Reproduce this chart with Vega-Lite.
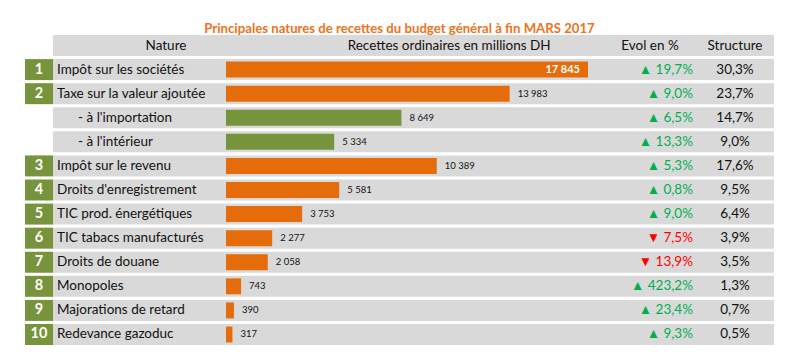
{
  "$schema": "https://vega.github.io/schema/vega-lite/v6.json",
  "background": "white",
  "padding": {"left": 25, "top": 21, "right": 0, "bottom": 0},
  "title": {"text": "Principales natures de recettes du budget général à fin MARS 2017", "color": "#EE7321", "font": "Lato", "fontSize": 13.2, "fontWeight": "bold", "anchor": "middle", "offset": -1},
  "datasets": {
    "rows": [
      {"id": "1", "rang": "1", "nature": "Impôt sur les sociétés", "niveau": 1, "groupe": "principal", "montant": 17845, "evol": 19.7, "evol_txt": "▲ 19,7%", "structure": 0.303},
      {"id": "2", "rang": "2", "nature": "Taxe sur la valeur ajoutée", "niveau": 1, "groupe": "principal", "montant": 13983, "evol": 9.0, "evol_txt": "▲ 9,0%", "structure": 0.237},
      {"id": "2a", "rang": null, "nature": "- à l'importation", "niveau": 2, "groupe": "détail", "montant": 8649, "evol": 6.5, "evol_txt": "▲ 6,5%", "structure": 0.147},
      {"id": "2b", "rang": null, "nature": "- à l'intérieur", "niveau": 2, "groupe": "détail", "montant": 5334, "evol": 13.3, "evol_txt": "▲ 13,3%", "structure": 0.090},
      {"id": "3", "rang": "3", "nature": "Impôt sur le revenu", "niveau": 1, "groupe": "principal", "montant": 10389, "evol": 5.3, "evol_txt": "▲ 5,3%", "structure": 0.176},
      {"id": "4", "rang": "4", "nature": "Droits d'enregistrement", "niveau": 1, "groupe": "principal", "montant": 5581, "evol": 0.8, "evol_txt": "▲ 0,8%", "structure": 0.095},
      {"id": "5", "rang": "5", "nature": "TIC prod. énergétiques", "niveau": 1, "groupe": "principal", "montant": 3753, "evol": 9.0, "evol_txt": "▲ 9,0%", "structure": 0.064},
      {"id": "6", "rang": "6", "nature": "TIC tabacs manufacturés", "niveau": 1, "groupe": "principal", "montant": 2277, "evol": -7.5, "evol_txt": "▼ 7,5%", "structure": 0.039},
      {"id": "7", "rang": "7", "nature": "Droits de douane", "niveau": 1, "groupe": "principal", "montant": 2058, "evol": -13.9, "evol_txt": "▼ 13,9%", "structure": 0.035},
      {"id": "8", "rang": "8", "nature": "Monopoles", "niveau": 1, "groupe": "principal", "montant": 743, "evol": 423.2, "evol_txt": "▲ 423,2%", "structure": 0.013},
      {"id": "9", "rang": "9", "nature": "Majorations de retard", "niveau": 1, "groupe": "principal", "montant": 390, "evol": 23.4, "evol_txt": "▲ 23,4%", "structure": 0.007},
      {"id": "10", "rang": "10", "nature": "Redevance gazoduc", "niveau": 1, "groupe": "principal", "montant": 317, "evol": 9.3, "evol_txt": "▲ 9,3%", "structure": 0.005}
    ],
    "head": [
      {"id": "h", "nature": "Nature", "recettes": "Recettes ordinaires en millions DH", "evol": "Evol en %", "structure": "Structure"}
    ]
  },
  "spacing": 0,
  "hconcat": [
    {
      "width": 28, "height": 310,
      "layer": [
        {
          "data": {"name": "rows"},
          "transform": [{"filter": "datum.rang != null"}],
          "mark": {"type": "rect", "color": "#77933C"},
          "encoding": {"y": {"field": "id", "type": "nominal", "axis": null, "scale": {"domain": ["h","1","2","2a","2b","3","4","5","6","7","8","9","10"], "paddingInner": 0.128, "paddingOuter": 0}}}
        },
        {
          "data": {"name": "rows"},
          "transform": [{"filter": "datum.rang != null"}],
          "mark": {"type": "text", "color": "white", "font": "Lato", "fontSize": 14.5, "fontWeight": "bold"},
          "encoding": {"y": {"field": "id", "type": "nominal", "axis": null}, "text": {"field": "rang"}}
        }
      ]
    },
    {
      "width": 173, "height": 310,
      "layer": [
        {"data": {"name": "rows"}, "mark": {"type": "rect", "color": "#D9D9D9"},
         "encoding": {"y": {"field": "id", "type": "nominal", "axis": null, "scale": {"domain": ["h","1","2","2a","2b","3","4","5","6","7","8","9","10"], "paddingInner": 0.128, "paddingOuter": 0}}}},
        {"data": {"name": "head"}, "mark": {"type": "rect", "color": "#D9D9D9"},
         "encoding": {"y": {"field": "id", "type": "nominal", "axis": null}}},
        {"data": {"name": "rows"}, "transform": [{"filter": "datum.niveau == 1"}],
         "mark": {"type": "text", "align": "left", "dx": 4, "font": "Lato", "fontSize": 13.5, "color": "#111"},
         "encoding": {"x": {"datum": 0, "type": "quantitative", "scale": {"domain": [0, 1], "nice": false}, "axis": null}, "y": {"field": "id", "type": "nominal", "axis": null}, "text": {"field": "nature"}}},
        {"data": {"name": "rows"}, "transform": [{"filter": "datum.niveau == 2"}],
         "mark": {"type": "text", "align": "left", "dx": 25, "font": "Lato", "fontSize": 13.5, "color": "#111"},
         "encoding": {"x": {"datum": 0, "type": "quantitative"}, "y": {"field": "id", "type": "nominal", "axis": null}, "text": {"field": "nature"}}},
        {"data": {"name": "head"},
         "mark": {"type": "text", "align": "center", "font": "Lato", "fontSize": 13.5, "color": "#111"},
         "encoding": {"x": {"datum": 0.653, "type": "quantitative"}, "y": {"field": "id", "type": "nominal", "axis": null}, "text": {"field": "nature"}}}
      ]
    },
    {
      "width": 384, "height": 310,
      "layer": [
        {"data": {"name": "rows"}, "mark": {"type": "rect", "color": "#D9D9D9"},
         "encoding": {"y": {"field": "id", "type": "nominal", "axis": null, "scale": {"domain": ["h","1","2","2a","2b","3","4","5","6","7","8","9","10"], "paddingInner": 0.128, "paddingOuter": 0}}}},
        {"data": {"name": "head"}, "mark": {"type": "rect", "color": "#D9D9D9"},
         "encoding": {"y": {"field": "id", "type": "nominal", "axis": null}}},
        {"data": {"name": "rows"},
         "mark": {"type": "bar", "height": {"band": 0.76}},
         "encoding": {
           "x": {"field": "montant", "type": "quantitative", "scale": {"domain": [0, 18930], "nice": false}, "axis": null},
           "y": {"field": "id", "type": "nominal", "axis": null},
           "color": {"field": "groupe", "type": "nominal", "scale": {"domain": ["principal", "détail"], "range": ["#E46C0A", "#77933C"]}, "legend": null}
         }},
        {"data": {"name": "rows"}, "transform": [{"filter": "datum.montant < 15000"}],
         "mark": {"type": "text", "align": "left", "dx": 8, "font": "Lato", "fontSize": 9.5, "color": "#111"},
         "encoding": {"x": {"field": "montant", "type": "quantitative"}, "y": {"field": "id", "type": "nominal", "axis": null}, "text": {"field": "montant", "format": ",d"}}},
        {"data": {"name": "rows"}, "transform": [{"filter": "datum.montant >= 15000"}],
         "mark": {"type": "text", "align": "right", "dx": -8, "font": "Lato", "fontSize": 11, "fontWeight": "bold", "color": "white"},
         "encoding": {"x": {"field": "montant", "type": "quantitative"}, "y": {"field": "id", "type": "nominal", "axis": null}, "text": {"field": "montant", "format": ",d"}}},
        {"data": {"name": "head"},
         "mark": {"type": "text", "align": "center", "font": "Lato", "fontSize": 13.5, "color": "#111"},
         "encoding": {"x": {"datum": 11000, "type": "quantitative"}, "y": {"field": "id", "type": "nominal", "axis": null}, "text": {"field": "recettes"}}}
      ]
    },
    {
      "width": 86, "height": 310,
      "layer": [
        {"data": {"name": "rows"}, "mark": {"type": "rect", "color": "#D9D9D9"},
         "encoding": {"y": {"field": "id", "type": "nominal", "axis": null, "scale": {"domain": ["h","1","2","2a","2b","3","4","5","6","7","8","9","10"], "paddingInner": 0.128, "paddingOuter": 0}}}},
        {"data": {"name": "head"}, "mark": {"type": "rect", "color": "#D9D9D9"},
         "encoding": {"y": {"field": "id", "type": "nominal", "axis": null}}},
        {"data": {"name": "rows"},
         "mark": {"type": "text", "align": "right", "dx": -3, "font": "Lato", "fontSize": 13.5},
         "encoding": {
           "x": {"datum": 1, "type": "quantitative", "scale": {"domain": [0, 1], "nice": false}, "axis": null},
           "y": {"field": "id", "type": "nominal", "axis": null},
           "text": {"field": "evol_txt"},
           "color": {"condition": {"test": "datum.evol < 0", "value": "#FF0000"}, "value": "#00B050"}
         }},
        {"data": {"name": "head"},
         "mark": {"type": "text", "align": "center", "font": "Lato", "fontSize": 13.5, "color": "#111"},
         "encoding": {"x": {"datum": 0.465, "type": "quantitative"}, "y": {"field": "id", "type": "nominal", "axis": null}, "text": {"field": "evol"}}}
      ]
    },
    {
      "width": 78, "height": 310,
      "layer": [
        {"data": {"name": "rows"}, "mark": {"type": "rect", "color": "#D9D9D9"},
         "encoding": {"y": {"field": "id", "type": "nominal", "axis": null, "scale": {"domain": ["h","1","2","2a","2b","3","4","5","6","7","8","9","10"], "paddingInner": 0.128, "paddingOuter": 0}}}},
        {"data": {"name": "head"}, "mark": {"type": "rect", "color": "#D9D9D9"},
         "encoding": {"y": {"field": "id", "type": "nominal", "axis": null}}},
        {"data": {"name": "rows"},
         "mark": {"type": "text", "align": "center", "font": "Lato", "fontSize": 13.5, "color": "#111"},
         "encoding": {"y": {"field": "id", "type": "nominal", "axis": null}, "text": {"field": "structure", "format": ".1%"}}},
        {"data": {"name": "head"},
         "mark": {"type": "text", "align": "center", "font": "Lato", "fontSize": 13.5, "color": "#111"},
         "encoding": {"y": {"field": "id", "type": "nominal", "axis": null}, "text": {"field": "structure"}}}
      ]
    }
  ],
  "config": {
    "view": {"stroke": null},
    "font": "Lato",
    "locale": {"number": {"decimal": ",", "thousands": " ", "grouping": [3], "currency": ["", " DH"]}}
  }
}
